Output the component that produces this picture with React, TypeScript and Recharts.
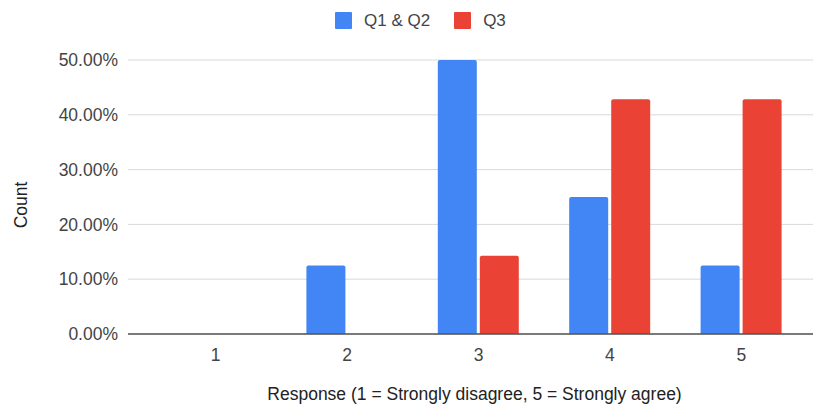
import { Bar, BarChart, CartesianGrid, Label, XAxis, YAxis } from "recharts";

const RESPONSES = ["1", "2", "3", "4", "5"];
const Q1_Q2 = [0, 0.125, 0.5, 0.25, 0.125];
const Q3 = [0, 0, 0.1429, 0.4286, 0.4286];
const Y_TICKS = [0, 0.1, 0.2, 0.3, 0.4, 0.5];

const SERIES = [
  { key: "q12", name: "Q1 & Q2", color: "#4285F4" },
  { key: "q3", name: "Q3", color: "#EA4335" },
];

const data = RESPONSES.map((r, i) => ({ response: r, q12: Q1_Q2[i], q3: Q3[i] }));

const FONT = "'Liberation Sans', Arial, sans-serif";
const TEXT = "#444444";
const SIZE = 17.5;

function TopLegend() {
  return (
    <div
      style={{
        position: "absolute",
        top: 12,
        left: 335,
        display: "flex",
        alignItems: "center",
        height: 17,
        fontFamily: FONT,
        fontSize: 17,
        color: TEXT,
      }}
    >
      {SERIES.map((s) => (
        <span key={s.key} style={{ display: "flex", alignItems: "center", marginRight: 24 }}>
          <span style={{ width: 17, height: 17, background: s.color, borderRadius: 1, marginRight: 12 }} />
          {s.name}
        </span>
      ))}
    </div>
  );
}

export default function App() {
  return (
    <div style={{ position: "relative", margin: -8, width: 821, height: 412, background: "#fff", overflow: "hidden" }}>
      <TopLegend />
      <BarChart
        width={821}
        height={412}
        data={data}
        margin={{ top: 60, right: 0, left: 8, bottom: 0 }}
        barGap={3}
        barCategoryGap={25}
      >
        <CartesianGrid vertical={false} stroke="#d9d9d9" strokeWidth={1} />
        <XAxis
          dataKey="response"
          height={78}
          padding={{ left: 22, right: 14 }}
          tickLine={false}
          axisLine={{ stroke: "#555555", strokeWidth: 1.5 }}
          tickMargin={9}
          tick={{ fill: TEXT, fontSize: SIZE, fontFamily: FONT }}
        >
          <Label
            value="Response (1 = Strongly disagree, 5 = Strongly agree)"
            position="insideBottom"
            offset={12}
            style={{ fill: "#222", fontSize: SIZE, fontFamily: FONT }}
          />
        </XAxis>
        <YAxis
          width={120}
          domain={[0, 0.5]}
          ticks={Y_TICKS}
          tickFormatter={(v: number) => `${(v * 100).toFixed(2)}%`}
          axisLine={false}
          tickLine={false}
          tickSize={0}
          tickMargin={10}
          tick={{ fill: TEXT, fontSize: SIZE, fontFamily: FONT }}
        >
          <Label
            value="Count"
            angle={-90}
            position="insideLeft"
            offset={13}
            dy={8}
            style={{ fill: "#222", fontSize: SIZE, fontFamily: FONT, textAnchor: "middle" }}
          />
        </YAxis>
        {SERIES.map((s) => (
          <Bar
            key={s.key}
            dataKey={s.key}
            name={s.name}
            fill={s.color}
            radius={[2, 2, 0, 0]}
            isAnimationActive={false}
          />
        ))}
      </BarChart>
    </div>
  );
}
